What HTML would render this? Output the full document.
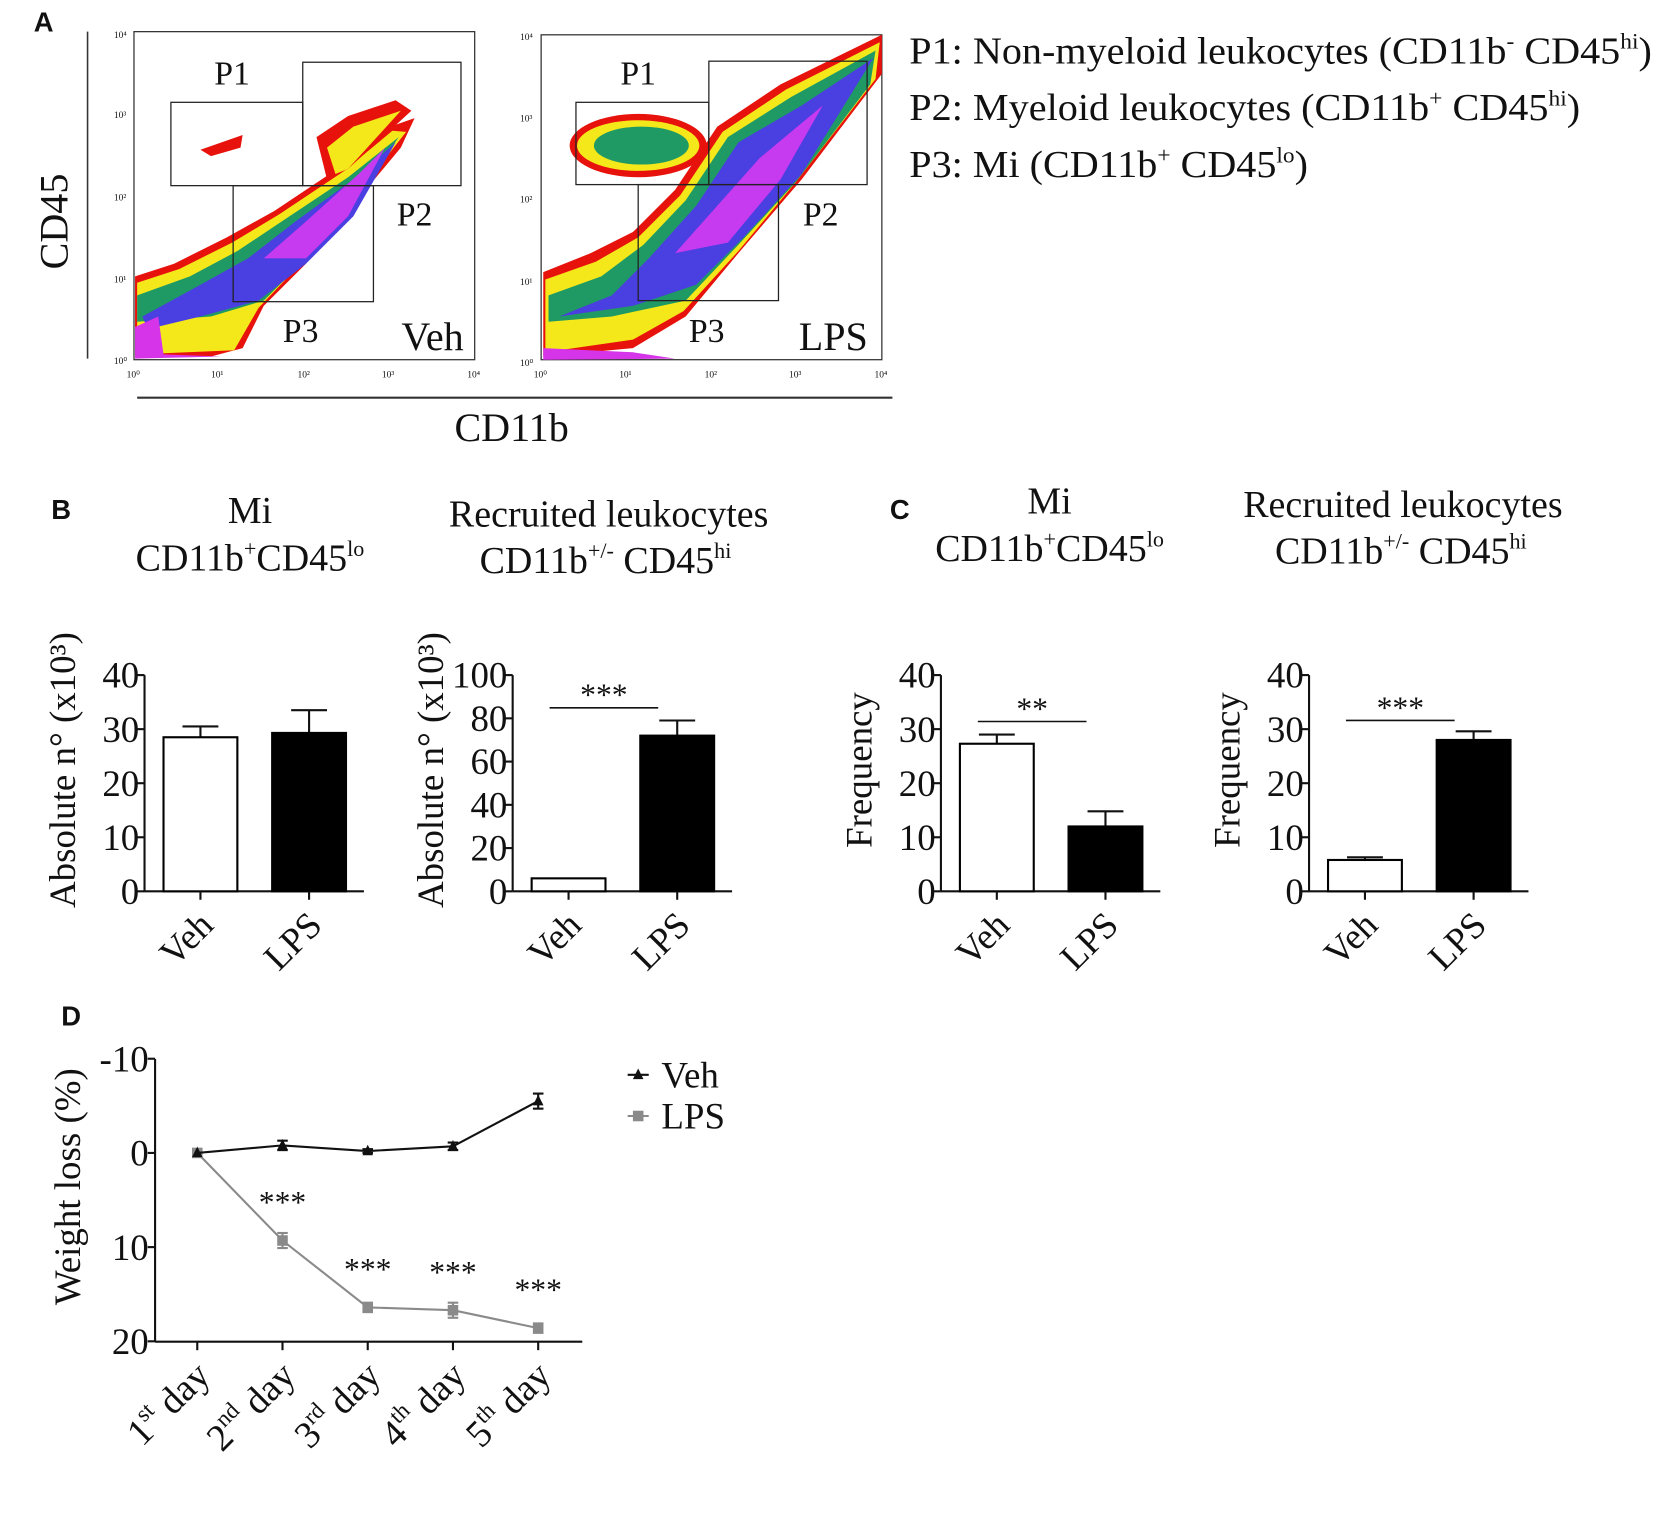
<!DOCTYPE html>
<html><head><meta charset="utf-8"><style>
html,body{margin:0;padding:0;background:#fff}
svg{display:block}
text{font-family:"Liberation Serif",serif;fill:#111}
.lab{font-family:"Liberation Sans",sans-serif;font-weight:bold}
</style></head><body>
<svg id="fig" width="1654" height="1520" viewBox="0 0 1568 1441" xmlns="http://www.w3.org/2000/svg">
<!-- Panel A -->
<g>
<text class="lab" x="32" y="30" font-size="26">A</text>
<line x1="83" y1="30" x2="83" y2="340" stroke="#333" stroke-width="1.5"/>
<text x="0" y="0" font-size="38" transform="translate(64,210) rotate(-90)" text-anchor="middle">CD45</text>
<line x1="130" y1="377" x2="846" y2="377" stroke="#333" stroke-width="2"/>
<text x="485" y="418" font-size="38" text-anchor="middle">CD11b</text>
<!-- Veh flow plot -->
<g>
<rect x="127" y="30" width="323" height="311" fill="#fff" stroke="#333" stroke-width="1.2"/>
<polygon points="128,262 165,250 215,225 260,200 320,160 370,120 393,112 380,140 330,200 290,250 250,290 230,330 200,338 128,338" fill="#e8120c"/>
<polygon points="130,268 170,255 220,230 265,203 325,163 372,124 385,125 330,195 285,250 245,292 222,332 130,336" fill="#f5e81a"/>
<polygon points="130,280 180,262 225,238 270,208 330,168 378,130 330,200 285,250 250,285 200,300 130,305" fill="#1f9a64"/>
<polygon points="135,300 190,270 235,245 280,210 335,170 375,135 335,205 290,250 245,285 190,300 140,312" fill="#4a3fe0"/>
<polygon points="250,245 290,210 340,165 365,140 330,205 290,245" fill="#c63af0"/>
<polygon points="128,310 150,300 155,336 210,338 128,340" fill="#d534e8"/>
<polygon points="300,130 330,110 375,95 390,105 330,160 310,170" fill="#e8120c"/>
<polygon points="310,140 335,120 380,105 330,160 318,165" fill="#f5e81a"/>
<polygon points="190,142 230,128 228,140 200,148" fill="#e8120c"/>
<rect x="162" y="97" width="125" height="79" fill="none" stroke="#222" stroke-width="1.2"/>
<rect x="287" y="59" width="150" height="117" fill="none" stroke="#222" stroke-width="1.2"/>
<rect x="221" y="176" width="133" height="110" fill="none" stroke="#222" stroke-width="1.2"/>
<text x="220" y="80" font-size="32" text-anchor="middle">P1</text>
<text x="393" y="214" font-size="32" text-anchor="middle">P2</text>
<text x="285" y="324" font-size="32" text-anchor="middle">P3</text>
<text x="410" y="332" font-size="38" text-anchor="middle">Veh</text>
</g>
<!-- LPS flow plot -->
<g>
<rect x="513" y="33" width="323" height="308" fill="#fff" stroke="#333" stroke-width="1.2"/>
<polygon points="515,258 560,240 600,220 640,180 680,120 740,80 836,33 836,70 760,170 700,240 650,300 600,330 515,338" fill="#e8120c"/>
<polygon points="517,265 565,248 605,225 645,185 685,125 745,85 834,40 830,75 755,172 700,238 648,295 600,322 517,334" fill="#f5e81a"/>
<polygon points="520,280 570,262 610,232 650,190 690,130 750,92 830,48 825,80 755,172 700,232 650,285 580,300 520,305" fill="#1f9a64"/>
<polygon points="530,300 580,280 615,245 660,195 700,135 760,100 828,55 760,165 705,225 660,270 600,290" fill="#4a3fe0"/>
<polygon points="640,240 680,195 720,150 780,100 740,170 690,230" fill="#c63af0"/>
<ellipse cx="605" cy="138" rx="65" ry="30" fill="#e8120c"/>
<ellipse cx="605" cy="138" rx="58" ry="24" fill="#f5e81a"/>
<ellipse cx="608" cy="138" rx="45" ry="18" fill="#1f9a64"/>
<polygon points="515,330 600,334 640,340 515,341" fill="#d534e8"/>
<rect x="546" y="97" width="126" height="78" fill="none" stroke="#222" stroke-width="1.2"/>
<rect x="672" y="58" width="150" height="117" fill="none" stroke="#222" stroke-width="1.2"/>
<rect x="605" y="175" width="133" height="110" fill="none" stroke="#222" stroke-width="1.2"/>
<text x="605" y="80" font-size="32" text-anchor="middle">P1</text>
<text x="778" y="214" font-size="32" text-anchor="middle">P2</text>
<text x="670" y="324" font-size="32" text-anchor="middle">P3</text>
<text x="790" y="332" font-size="38" text-anchor="middle">LPS</text>
</g>
<g font-size="9">
<text x="108" y="36">10⁴</text><text x="108" y="112">10³</text><text x="108" y="190">10²</text><text x="108" y="268">10¹</text><text x="108" y="345">10⁰</text>
<text x="120" y="358">10⁰</text><text x="200" y="358">10¹</text><text x="282" y="358">10²</text><text x="362" y="358">10³</text><text x="443" y="358">10⁴</text>
<text x="493" y="38">10⁴</text><text x="493" y="115">10³</text><text x="493" y="192">10²</text><text x="493" y="270">10¹</text><text x="493" y="347">10⁰</text>
<text x="506" y="358">10⁰</text><text x="587" y="358">10¹</text><text x="668" y="358">10²</text><text x="748" y="358">10³</text><text x="829" y="358">10⁴</text>
</g>
<g font-size="36">
<text x="862" y="60" textLength="704" lengthAdjust="spacingAndGlyphs">P1: Non-myeloid leukocytes (CD11b<tspan font-size="21" dy="-14">-</tspan><tspan dy="14"> CD45</tspan><tspan font-size="21" dy="-14">hi</tspan><tspan dy="14">)</tspan></text>
<text x="862" y="114" textLength="636" lengthAdjust="spacingAndGlyphs">P2: Myeloid leukocytes (CD11b<tspan font-size="21" dy="-14">+</tspan><tspan dy="14"> CD45</tspan><tspan font-size="21" dy="-14">hi</tspan><tspan dy="14">)</tspan></text>
<text x="862" y="168" textLength="378" lengthAdjust="spacingAndGlyphs">P3: Mi (CD11b<tspan font-size="21" dy="-14">+</tspan><tspan dy="14"> CD45</tspan><tspan font-size="21" dy="-14">lo</tspan><tspan dy="14">)</tspan></text>
</g>
</g>
<!-- Panel titles -->
<g font-size="36" text-anchor="middle">
<text class="lab" x="58" y="492" font-size="26">B</text>
<text class="lab" x="853" y="492" font-size="26">C</text>
<text x="237" y="496">Mi</text>
<text x="237" y="541">CD11b<tspan font-size="21" dy="-14">+</tspan><tspan dy="14">CD45</tspan><tspan font-size="21" dy="-14">lo</tspan></text>
<text x="577" y="499">Recruited leukocytes</text>
<text x="574" y="543">CD11b<tspan font-size="21" dy="-14">+/-</tspan><tspan dy="14"> CD45</tspan><tspan font-size="21" dy="-14">hi</tspan></text>
<text x="995" y="487">Mi</text>
<text x="995" y="532">CD11b<tspan font-size="21" dy="-14">+</tspan><tspan dy="14">CD45</tspan><tspan font-size="21" dy="-14">lo</tspan></text>
<text x="1330" y="490">Recruited leukocytes</text>
<text x="1328" y="534">CD11b<tspan font-size="21" dy="-14">+/-</tspan><tspan dy="14"> CD45</tspan><tspan font-size="21" dy="-14">hi</tspan></text>
</g>
<g id="bars"></g>
<!-- Panel D -->
<text class="lab" x="58" y="972" font-size="26">D</text>
<g id="lineD"></g>
</svg>
<script>
const NS="http://www.w3.org/2000/svg";
function mk(p,tag,attrs,txt){const e=document.createElementNS(NS,tag);for(const k in attrs)e.setAttribute(k,attrs[k]);if(txt!==undefined)e.textContent=txt;p.appendChild(e);return e;}

// Bar chart data
const barCategories=["Veh","LPS"];
const b1Values=[28.5,29.3]; const b1Errors=[2.0,4.2]; const b1Ticks=[0,10,20,30,40];
const b2Values=[6,72]; const b2Errors=[0,7]; const b2Ticks=[0,20,40,60,80,100];
const c1Values=[27.3,12]; const c1Errors=[1.7,2.8]; const c1Ticks=[0,10,20,30,40];
const c2Values=[5.8,28]; const c2Errors=[0.5,1.6]; const c2Ticks=[0,10,20,30,40];

const barsG=document.getElementById('bars');
function barChart(name,ax,vals,errs,ticks,ylabel,sig,sigY){
  const g=mk(barsG,'g',{});
  
  
  const y0=845,yTop=640,max=ticks[ticks.length-1];
  const y=v=>y0-(v/max)*(y0-yTop);
  const bw=70, cx=[ax+53,ax+156];
  const yl=mk(g,'line',{x1:ax,y1:yTop,x2:ax,y2:y0,stroke:'#111','stroke-width':2});
  
  
  const xl=mk(g,'line',{x1:ax,y1:y0,x2:ax+208,y2:y0,stroke:'#111','stroke-width':2});
  
  
  ticks.forEach(t=>{
    mk(g,'line',{x1:ax-7,y1:y(t),x2:ax,y2:y(t),stroke:'#111','stroke-width':2});
    const tl=mk(g,'text',{x:ax-5,y:y(t)+12,'font-size':35,'text-anchor':'end'},String(t));
    
    
  });
  vals.forEach((v,i)=>{
    const e=errs[i];
    if(e>0){
      mk(g,'line',{x1:cx[i],y1:y(v),x2:cx[i],y2:y(v+e),stroke:'#111','stroke-width':2});
      mk(g,'line',{x1:cx[i]-17,y1:y(v+e),x2:cx[i]+17,y2:y(v+e),stroke:'#111','stroke-width':2});
    }
    const r=mk(g,'rect',{x:cx[i]-bw/2,y:y(v),width:bw,height:y0-y(v),fill:i?'#000':'#fff',stroke:'#000','stroke-width':2});
    
    
    mk(g,'line',{x1:cx[i],y1:y0,x2:cx[i],y2:y0+8,stroke:'#111','stroke-width':2});
    const xt=mk(g,'text',{x:0,y:0,'font-size':35,'text-anchor':'end',transform:`translate(${cx[i]+14},${y0+34}) rotate(-45)`},barCategories[i]);
    
    
  });
  const t=mk(g,'text',{x:0,y:0,'font-size':35,'text-anchor':'middle',transform:`translate(${ax-66},730) rotate(-90)`},ylabel);
  
  
  if(sig){
    mk(g,'line',{x1:cx[0]-18,y1:sigY,x2:cx[1]-18,y2:sigY,stroke:'#111','stroke-width':1.5});
    const s=mk(g,'text',{x:(cx[0]+cx[1])/2-18,y:sigY-2,'font-size':30,'text-anchor':'middle'},sig);
    
    
  }
}
barChart('chart-b-mi',137,b1Values,b1Errors,b1Ticks,'Absolute n° (x10³)',null,0);
barChart('chart-b-recruited',486,b2Values,b2Errors,b2Ticks,'Absolute n° (x10³)','***',671);
barChart('chart-c-mi',892,c1Values,c1Errors,c1Ticks,'Frequency','**',684);
barChart('chart-c-recruited',1241,c2Values,c2Errors,c2Ticks,'Frequency','***',683);

// Line chart D
const dayLabels=[["1","st"],["2","nd"],["3","rd"],["4","th"],["5","th"]];
const vehValues=[0,-0.8,-0.2,-0.7,-5.5];
const vehErrors=[0,0.5,0.2,0.4,0.8];
const lpsValues=[0,9.3,16.4,16.7,18.6];
const lpsErrors=[0,0.8,0.5,0.8,0.5];
const dTicks=[-10,0,10,20];
const lpsStars=["","***","***","***","***"];
const D=document.getElementById('lineD');
const dx=i=>187+i*80.8;
const dy=v=>1093+v*8.93;
let a=mk(D,'line',{x1:147,y1:1004,x2:147,y2:1272,stroke:'#111','stroke-width':2});


a=mk(D,'line',{x1:147,y1:1272,x2:552,y2:1272,stroke:'#111','stroke-width':2});


dTicks.forEach(t=>{
  mk(D,'line',{x1:140,y1:dy(t),x2:147,y2:dy(t),stroke:'#111','stroke-width':2});
  const tl=mk(D,'text',{x:141,y:dy(t)+12,'font-size':35,'text-anchor':'end'},String(t));
  
  
});
dayLabels.forEach((d,i)=>{
  mk(D,'line',{x1:dx(i),y1:1272,x2:dx(i),y2:1280,stroke:'#111','stroke-width':2});
  const t=mk(D,'text',{x:0,y:0,'font-size':36,'text-anchor':'end',transform:`translate(${dx(i)+14},${1306}) rotate(-45)`});
  
  
  mk(t,'tspan',{},d[0]);
  mk(t,'tspan',{'font-size':22,dy:-15},d[1]);
  mk(t,'tspan',{dy:15},' day');
});
let yt=mk(D,'text',{x:0,y:0,'font-size':35,'text-anchor':'middle',transform:'translate(76,1125) rotate(-90)'},'Weight loss (%)');


function series(vals,errs,color,marker,name){
  const pl=mk(D,'polyline',{points:vals.map((v,i)=>dx(i)+','+dy(v)).join(' '),fill:'none',stroke:color,'stroke-width':2});
  
  
  vals.forEach((v,i)=>{
    const e=errs[i];
    if(e>0){
      mk(D,'line',{x1:dx(i),y1:dy(v-e),x2:dx(i),y2:dy(v+e),stroke:color,'stroke-width':2});
      mk(D,'line',{x1:dx(i)-5,y1:dy(v-e),x2:dx(i)+5,y2:dy(v-e),stroke:color,'stroke-width':2});
      mk(D,'line',{x1:dx(i)-5,y1:dy(v+e),x2:dx(i)+5,y2:dy(v+e),stroke:color,'stroke-width':2});
    }
    let m;
    if(marker==='tri') m=mk(D,'polygon',{points:`${dx(i)},${dy(v)-6} ${dx(i)-5},${dy(v)+4} ${dx(i)+5},${dy(v)+4}`,fill:color});
    else m=mk(D,'rect',{x:dx(i)-5,y:dy(v)-5,width:10,height:10,fill:color});
    
    
  });
}
series(lpsValues,lpsErrors,'#8a8a8a','sq','lps');
series(vehValues,vehErrors,'#111','tri','veh');
lpsStars.forEach((s,i)=>{
  if(!s)return;
  const st=mk(D,'text',{x:dx(i),y:dy(lpsValues[i])-26,'font-size':30,'text-anchor':'middle'},s);
  
  
});
// legend
let lg=mk(D,'g',{});


mk(lg,'line',{x1:595,y1:1019,x2:615,y2:1019,stroke:'#111','stroke-width':2});
mk(lg,'polygon',{points:'605,1013 600,1023 610,1023',fill:'#111'});
mk(lg,'text',{x:627,y:1031,'font-size':35},'Veh');
mk(lg,'line',{x1:595,y1:1058,x2:615,y2:1058,stroke:'#8a8a8a','stroke-width':2});
mk(lg,'rect',{x:600,y:1053,width:10,height:10,fill:'#8a8a8a'});
mk(lg,'text',{x:627,y:1070,'font-size':35},'LPS');
</script>
</body></html>
